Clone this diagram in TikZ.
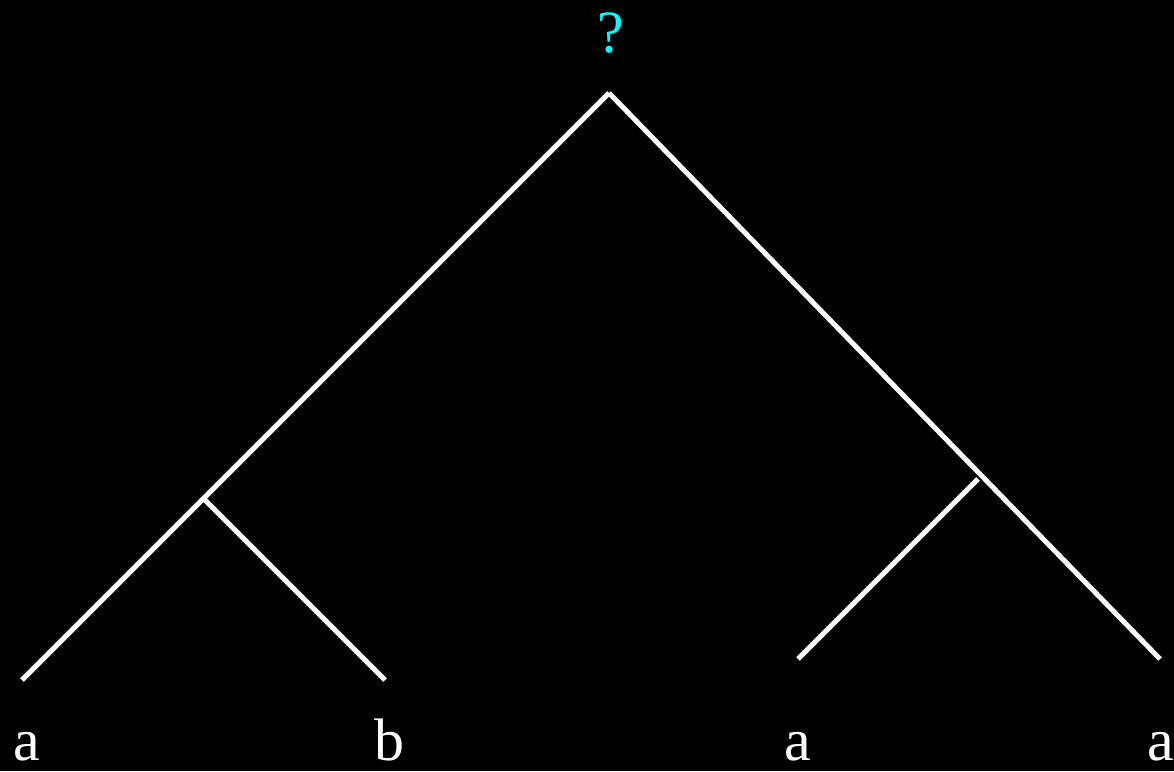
\documentclass[tikz,border=0pt]{standalone}
\usepackage{fontspec}
\setmainfont{Liberation Serif}
\definecolor{qcyan}{RGB}{0,255,255}
\begin{document}
\begin{tikzpicture}[x=1pt,y=-1pt,
  branch/.style={draw=white,line width=5pt,line cap=butt},
  leaflabel/.style={text=white,anchor=base,inner sep=0pt,font=\fontsize{60}{72}\selectfont},
  rootlabel/.style={text=qcyan,anchor=base,inner sep=0pt,font=\fontsize{60}{72}\selectfont}]
\fill[black] (0,0) rectangle (1174,771);
\useasboundingbox (0,0) rectangle (1174,771);
\coordinate (root) at (609,93);
\coordinate (ln) at (204,499);
\coordinate (rn) at (978,479);
\coordinate (l1) at (22,680);
\coordinate (l2) at (385,680);
\coordinate (l3) at (798,659);
\coordinate (l4) at (1160,659);
\draw[branch] (root) -- (l1);
\draw[branch] (ln) -- (l2);
\draw[branch] (root) -- (l4);
\draw[branch] (rn) -- (l3);
\node[rootlabel] (q) at (611,52) {?};
\node[leaflabel] (t1) at (27,760) {a};
\node[leaflabel] (t2) at (389,760) {b};
\node[leaflabel] (t3) at (798,760) {a};
\node[leaflabel] (t4) at (1161,760) {a};
\end{tikzpicture}
\end{document}
